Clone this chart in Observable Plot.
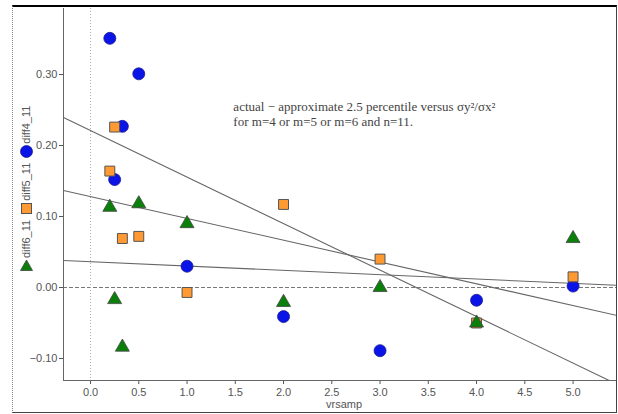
<!DOCTYPE html>
<html>
<head>
<meta charset="utf-8">
<script src="https://cdn.jsdelivr.net/npm/d3@7"></script>
<script src="https://cdn.jsdelivr.net/npm/@observablehq/plot@0.6"></script>
<style>
  body { margin: 0; background: #fff; }
  #wrap { position: relative; width: 618px; height: 414px; overflow: hidden; font-family: "Liberation Sans", Arial, sans-serif; }
  #wrap svg.plot { position: absolute; left: 0; top: 0; }
  #border { position: absolute; left: 12px; top: 5px; width: 603px; height: 405px;
            border: 1px solid #444; border-top: 2px solid #000; border-left: 1px dotted #888; pointer-events: none; }
  #ylab { position: absolute; width: 176px; height: 14px; left: -62px; top: 177px;
          transform: rotate(-90deg); transform-origin: 50% 50%;
          display: flex; align-items: center; gap: 1px; font-size: 11px; color: #555; white-space: nowrap; }
  #ylab svg { flex: none; }
</style>
</head>
<body>
<div id="wrap"></div>
<script>
// ---- data ----
const xDomain = [-0.28, 5.45];
const yDomain = [-0.131, 0.393];
const xTicks = [0, 0.5, 1, 1.5, 2, 2.5, 3, 3.5, 4, 4.5, 5];
const yTicks = [-0.1, 0, 0.1, 0.2, 0.3];

const vrsamp = [0.2, 0.25, 0.33, 0.5, 1, 2, 3, 4, 5];
const diff4_11 = [0.351, 0.152, 0.227, 0.301, 0.030, -0.041, -0.089, -0.018, 0.002];
const diff5_11 = [0.164, 0.226, 0.069, 0.072, -0.007, 0.117, 0.040, -0.050, 0.015];
const diff6_11 = [0.113, -0.017, -0.084, 0.118, 0.090, -0.021, 0.000, -0.050, 0.069];

// fitted straight lines
const fitNames = ["diff4_11", "diff5_11", "diff6_11"];
const fitIntercepts = [0.221, 0.128, 0.0363];
const fitSlopes = [-0.0655, -0.0307, -0.0061];

const noteLines = ["actual \u2212 approximate 2.5 percentile versus \u03c3y\u00b2/\u03c3x\u00b2", "for m=4 or m=5 or m=6 and n=11."];
const noteX = [1.48];
const noteY = [0.264];
const xLabel = "vrsamp";
const legendNames = ["diff6_11", "diff5_11", "diff4_11"];

// ---- build tables ----
const pts4 = vrsamp.map((x, i) => ({x, y: diff4_11[i]}));
const pts5 = vrsamp.map((x, i) => ({x, y: diff5_11[i]}));
const pts6 = vrsamp.map((x, i) => ({x, y: diff6_11[i]}));
const fitLines = fitNames.flatMap((name, i) =>
  xDomain.map(x => ({name, x, y: fitIntercepts[i] + fitSlopes[i] * x})));

const axisColor = "#555";

const chart = Plot.plot({
  width: 618,
  height: 414,
  marginLeft: 63,
  marginRight: 2,
  marginTop: 8,
  marginBottom: 34,
  style: {fontFamily: "'Liberation Sans', Arial, sans-serif", fontSize: "11px", color: axisColor, background: "transparent"},
  x: {domain: xDomain, ticks: xTicks, tickFormat: d3.format(".1f"), label: null, tickSize: 4, tickPadding: 4},
  y: {domain: yDomain, ticks: yTicks, tickFormat: d3.format(".2f"), label: null, tickSize: 4, tickPadding: 2},
  marks: [
    Plot.ruleY([0], {stroke: "#777", strokeDasharray: "4,2"}),
    Plot.ruleX([0], {stroke: "#aaa", strokeDasharray: "1,2"}),
    Plot.ruleX([xDomain[0]], {stroke: "#666"}),
    Plot.ruleY([yDomain[0]], {stroke: "#666"}),
    Plot.line(fitLines, {x: "x", y: "y", z: "name", stroke: "#666", strokeWidth: 1.1, clip: true}),
    Plot.dot(pts4, {x: "x", y: "y", symbol: "circle", r: 6, fill: "#0a14e6", stroke: "#1a1a90", strokeWidth: 0.8}),
    Plot.dot(pts5, {x: "x", y: "y", symbol: "square", r: 5.6, fill: "#ff9a33", stroke: "#555", strokeWidth: 1}),
    Plot.dot(pts6, {x: "x", y: "y", symbol: "triangle", r: 5.2, fill: "#0a800a", stroke: "#444", strokeWidth: 0.8}),
    Plot.text([noteLines.join("\n")], {x: noteX[0], y: noteY[0], textAnchor: "start", lineAnchor: "top",
      fontFamily: "'Liberation Serif', 'Times New Roman', serif", fontSize: 13, fill: "#444", lineHeight: 1.17}),
    Plot.text([xLabel], {frameAnchor: "bottom", lineAnchor: "top", dy: 20, dx: 4, fill: "#555", fontSize: 11})
  ]
});
chart.classList.add("plot");

const wrap = document.getElementById("wrap");
wrap.appendChild(chart);

// legend embedded in the rotated y-axis label
const sym = {
  diff6_11: '<svg width="13" height="13" viewBox="-6.5 -6.5 13 13"><path d="M0,-5.5L6,5L-6,5Z" fill="#0a800a" stroke="#444" stroke-width="0.8" transform="rotate(90)"/></svg>',
  diff5_11: '<svg width="13" height="13" viewBox="-6.5 -6.5 13 13"><rect x="-5" y="-5" width="10" height="10" fill="#ff9a33" stroke="#555"/></svg>',
  diff4_11: '<svg width="13" height="13" viewBox="-6.5 -6.5 13 13"><circle r="6" fill="#0a14e6" stroke="#1a1a90" stroke-width="0.8"/></svg>'
};
const ylab = document.createElement("div");
ylab.id = "ylab";
ylab.innerHTML = legendNames.map(n => sym[n] + '<span>' + n + '</span>').join('<span style="width:3px"></span>');
wrap.appendChild(ylab);

const border = document.createElement("div");
border.id = "border";
wrap.appendChild(border);
</script>
</body>
</html>
